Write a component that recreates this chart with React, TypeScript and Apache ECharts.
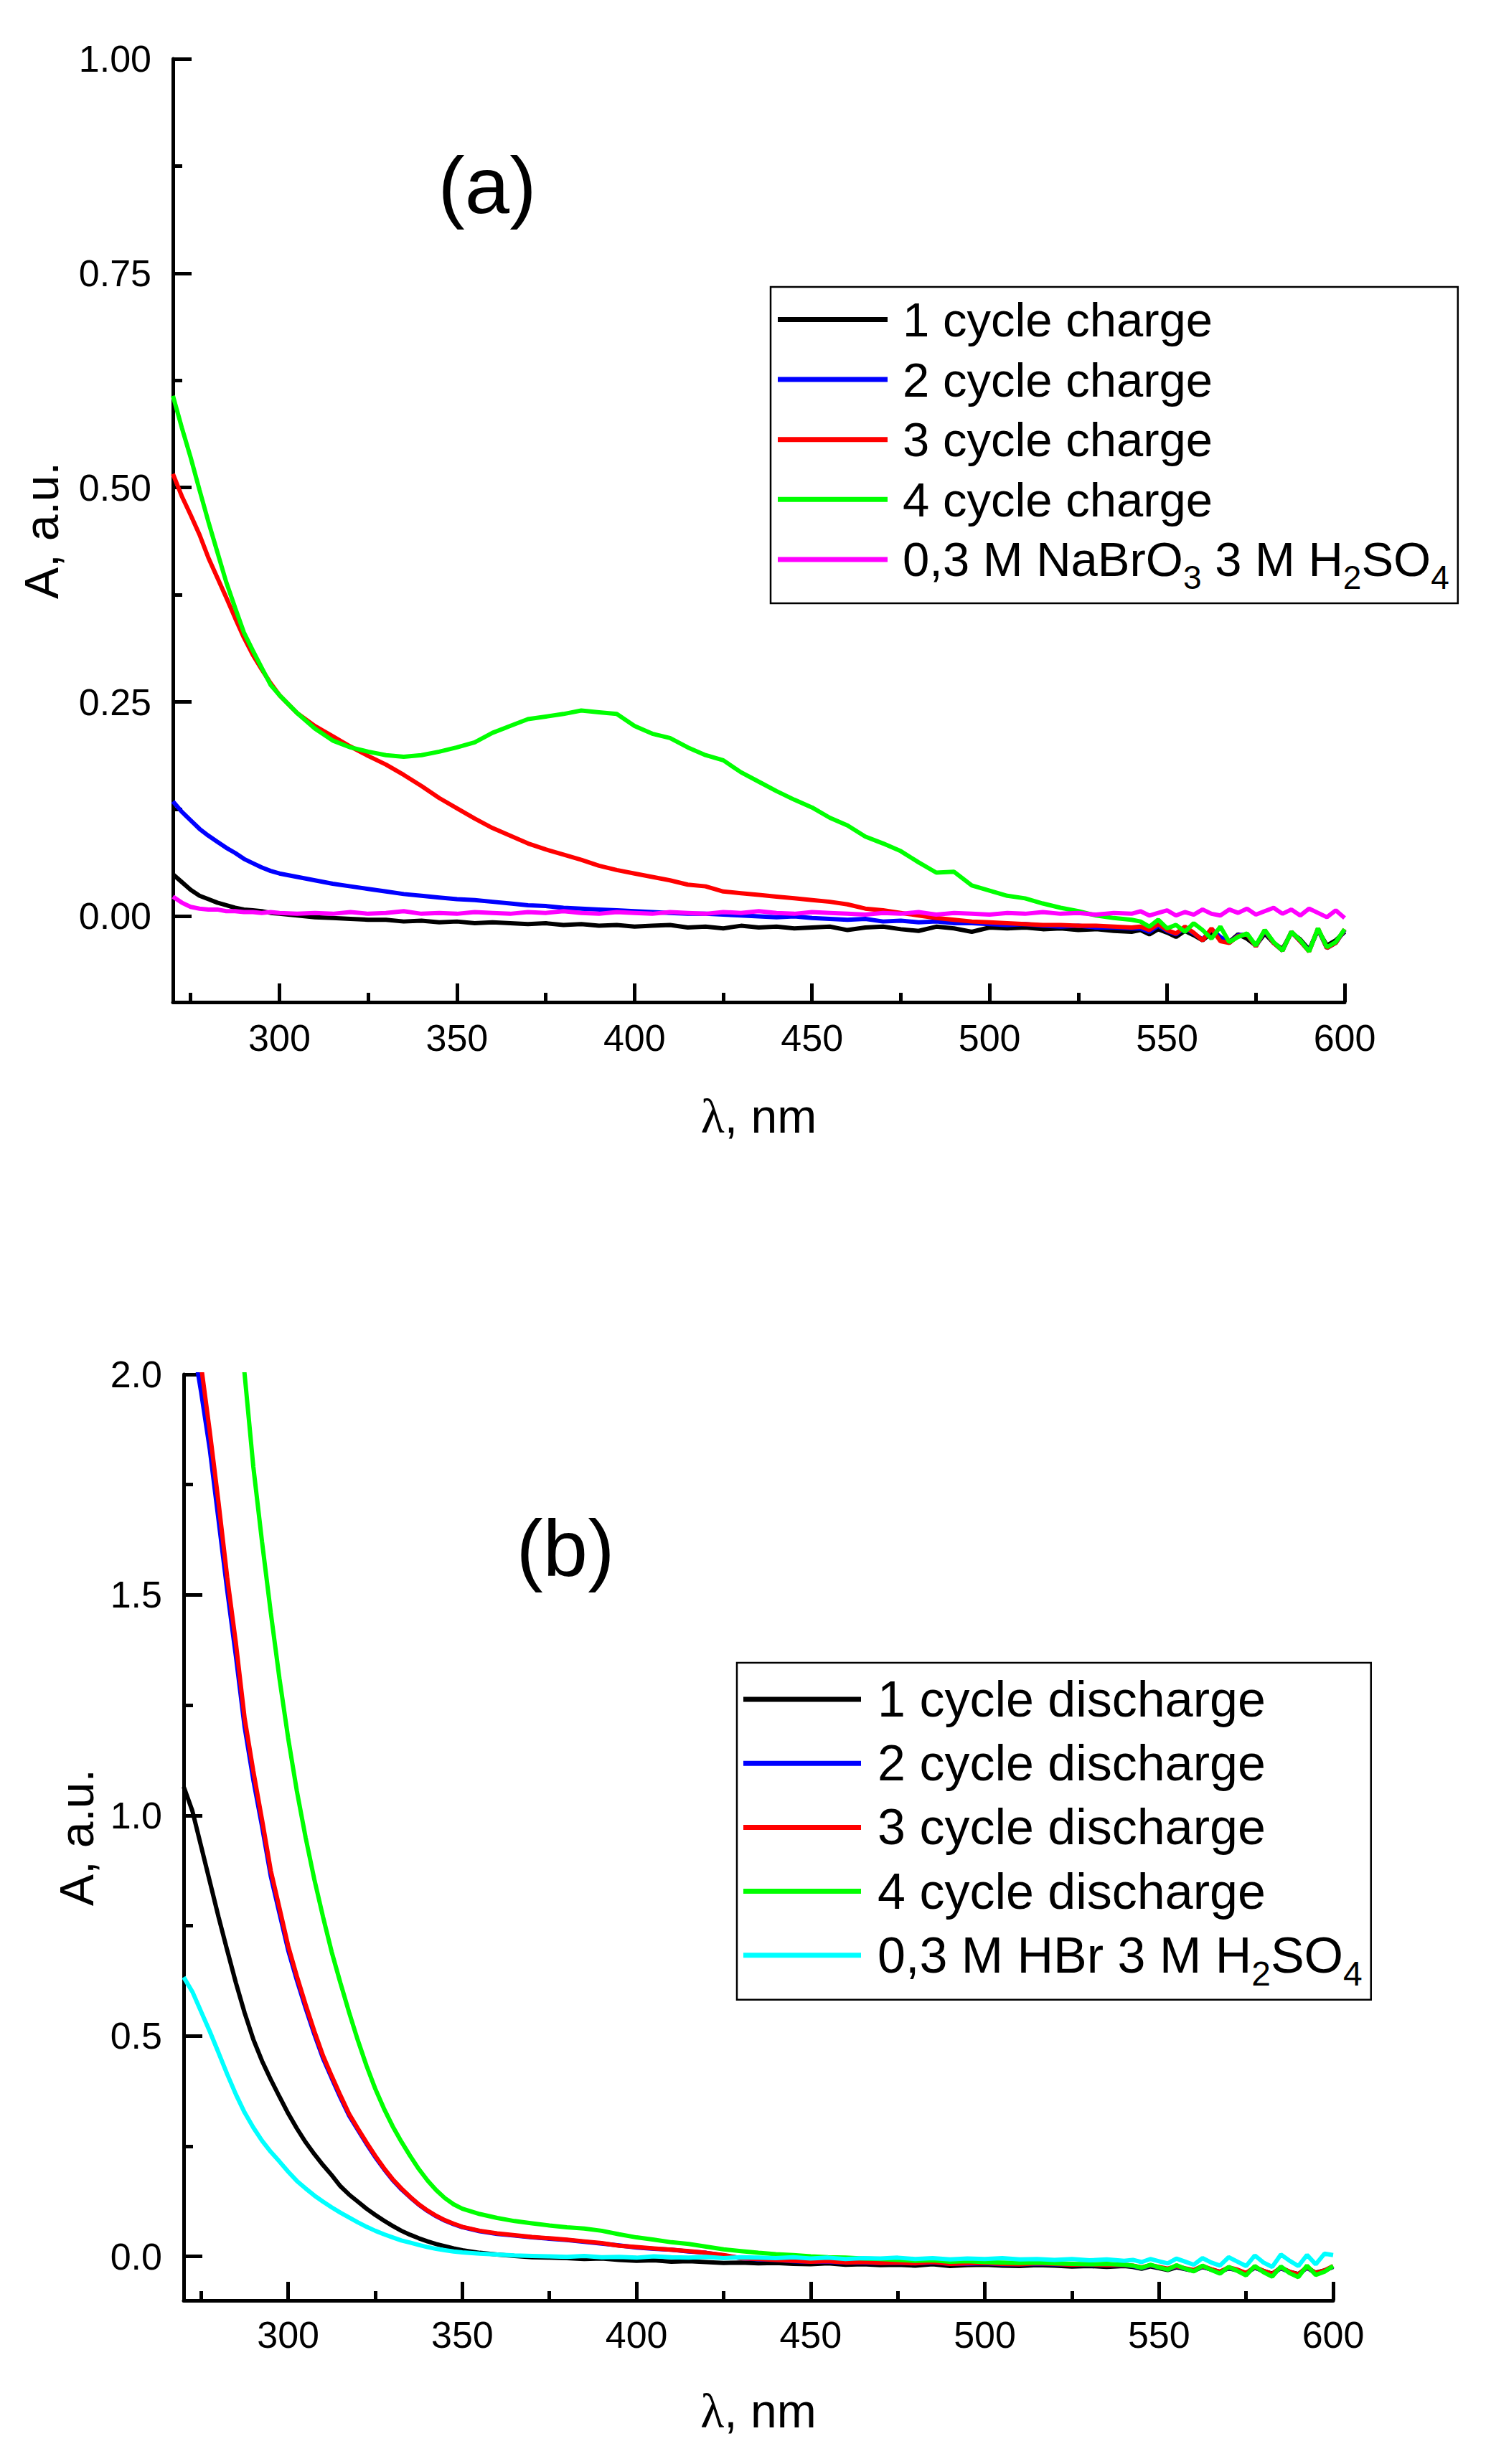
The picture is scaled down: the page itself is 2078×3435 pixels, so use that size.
import React, { useEffect, useRef } from "react";
import * as echarts from "echarts";

const FONT = '"Liberation Sans", Arial, Helvetica, sans-serif';
const SERIF = '"Liberation Serif", "DejaVu Serif", serif';

// ---------- wavelength grids (nm) ----------
const WL_A_HEAD = [270, 272.5, 275, 277.5, 280, 282.5, 285, 287.5, 290, 292.5, 295, 297.5, 300];
const WL_A_MID = [305, 310, 315, 320, 325, 330, 335, 340, 345, 350, 355, 360, 365, 370, 375, 380, 385, 390, 395, 400, 405, 410, 415, 420, 425, 430, 435, 440, 445, 450, 455, 460, 465, 470, 475, 480, 485, 490, 495, 500, 505, 510, 515, 520, 525, 530, 535, 540];
const WL_TAIL = [542.5, 545, 547.5, 550, 552.5, 555, 557.5, 560, 562.5, 565, 567.5, 570, 572.5, 575, 577.5, 580, 582.5, 585, 587.5, 590, 592.5, 595, 597.5, 600];
const WL_A = [...WL_A_HEAD, ...WL_A_MID, ...WL_TAIL];

const WL_B_HEAD = [270, 272.5, 275, 277.5, 280, 282.5, 285, 287.5, 290, 292.5, 295, 297.5, 300, 302.5, 305, 307.5, 310, 312.5, 315, 317.5, 320, 322.5, 325, 327.5, 330, 332.5, 335, 337.5, 340, 342.5, 345, 347.5, 350];
const WL_B_MID = [355, 360, 365, 370, 375, 380, 385, 390, 395, 400, 405, 410, 415, 420, 425, 430, 435, 440, 445, 450, 455, 460, 465, 470, 475, 480, 485, 490, 495, 500, 505, 510, 515, 520, 525, 530, 535, 540];
const WL_B = [...WL_B_HEAD, ...WL_B_MID, ...WL_TAIL];

// ---------- (a) charge ----------
const CHARGE_NAMES = ["1 cycle charge", "2 cycle charge", "3 cycle charge", "4 cycle charge", "0,3 M NaBrO3 3 M H2SO4"];

const CHARGE_1 = [
  0.049, 0.040, 0.031, 0.024, 0.020, 0.016, 0.013, 0.010, 0.008, 0.007, 0.006, 0.004, 0.003,
  0.001, -0.001, -0.002, -0.003, -0.004, -0.004, -0.006, -0.005, -0.007, -0.006,
  -0.008, -0.007, -0.008, -0.009, -0.008, -0.010, -0.009, -0.011, -0.010, -0.012,
  -0.011, -0.010, -0.013, -0.012, -0.014, -0.011, -0.013, -0.012, -0.014, -0.013,
  -0.012, -0.016, -0.013, -0.012, -0.015, -0.017, -0.012, -0.014, -0.018, -0.013,
  -0.014, -0.013, -0.015, -0.014, -0.016, -0.015, -0.017, -0.018,
  -0.016, -0.021, -0.015, -0.019, -0.024, -0.017, -0.022, -0.028, -0.019, -0.025, -0.030, -0.021,
  -0.026, -0.034, -0.020, -0.031, -0.038, -0.019, -0.027, -0.039, -0.016, -0.034, -0.028, -0.018,
];
const CHARGE_2 = [
  0.134, 0.122, 0.112, 0.102, 0.094, 0.087, 0.080, 0.074, 0.067, 0.062, 0.057, 0.053, 0.050,
  0.046, 0.042, 0.038, 0.035, 0.032, 0.029, 0.026, 0.024, 0.022, 0.020,
  0.019, 0.017, 0.015, 0.013, 0.012, 0.010, 0.009, 0.008, 0.007, 0.006,
  0.005, 0.004, 0.003, 0.003, 0.002, 0.001, 0.000, -0.001, 0.000, -0.002,
  -0.003, -0.004, -0.003, -0.006, -0.005, -0.007, -0.006, -0.008, -0.008, -0.009,
  -0.010, -0.009, -0.011, -0.012, -0.011, -0.013, -0.013, -0.014,
  -0.014, -0.018, -0.011, -0.017, -0.021, -0.013, -0.020, -0.027, -0.015, -0.024, -0.031, -0.022,
  -0.021, -0.035, -0.017, -0.031, -0.040, -0.018, -0.029, -0.040, -0.015, -0.037, -0.031, -0.016,
];
const CHARGE_3 = [
  0.516, 0.490, 0.468, 0.445, 0.418, 0.395, 0.372, 0.348, 0.325, 0.305, 0.288, 0.272, 0.258,
  0.237, 0.222, 0.210, 0.198, 0.187, 0.177, 0.165, 0.152, 0.138, 0.126,
  0.114, 0.103, 0.094, 0.085, 0.078, 0.072, 0.066, 0.059, 0.054, 0.050,
  0.046, 0.042, 0.037, 0.035, 0.029, 0.027, 0.025, 0.023, 0.021, 0.019,
  0.017, 0.014, 0.009, 0.007, 0.004, 0.001, -0.002, -0.004, -0.006, -0.007,
  -0.008, -0.009, -0.010, -0.010, -0.011, -0.011, -0.012, -0.013,
  -0.012, -0.016, -0.009, -0.016, -0.020, -0.012, -0.019, -0.028, -0.014, -0.029, -0.031, -0.023,
  -0.021, -0.035, -0.016, -0.031, -0.040, -0.018, -0.029, -0.041, -0.014, -0.037, -0.031, -0.015,
];
const CHARGE_4 = [
  0.607, 0.570, 0.535, 0.497, 0.460, 0.425, 0.390, 0.360, 0.331, 0.310, 0.290, 0.270, 0.258,
  0.237, 0.219, 0.205, 0.197, 0.192, 0.188, 0.186, 0.188, 0.192, 0.197,
  0.203, 0.214, 0.222, 0.230, 0.233, 0.236, 0.240, 0.238, 0.236, 0.222,
  0.213, 0.208, 0.197, 0.188, 0.182, 0.168, 0.157, 0.146, 0.136, 0.127,
  0.115, 0.106, 0.093, 0.085, 0.076, 0.063, 0.051, 0.052, 0.036, 0.030,
  0.024, 0.021, 0.015, 0.010, 0.006, 0.001, -0.002, -0.004,
  -0.006, -0.012, -0.004, -0.014, -0.010, -0.018, -0.008, -0.016, -0.026, -0.012, -0.030, -0.024,
  -0.020, -0.034, -0.016, -0.030, -0.040, -0.018, -0.028, -0.041, -0.014, -0.036, -0.030, -0.015,
];
const NABRO3_REF = [
  0.023, 0.016, 0.011, 0.009, 0.008, 0.008, 0.006, 0.006, 0.005, 0.005, 0.004, 0.005, 0.004,
  0.003, 0.004, 0.003, 0.005, 0.003, 0.004, 0.006, 0.003, 0.004, 0.003,
  0.005, 0.004, 0.003, 0.005, 0.004, 0.006, 0.004, 0.003, 0.005, 0.004,
  0.003, 0.005, 0.004, 0.003, 0.005, 0.004, 0.006, 0.004, 0.003, 0.005,
  0.004, 0.003, 0.002, 0.004, 0.003, 0.005, 0.002, 0.004, 0.003, 0.002,
  0.004, 0.003, 0.005, 0.003, 0.004, 0.002, 0.004, 0.003,
  0.006, 0.001, 0.004, 0.007, 0.001, 0.005, 0.002, 0.008, 0.003, 0.001, 0.008, 0.004,
  0.009, 0.002, 0.006, 0.010, 0.003, 0.008, 0.001, 0.009, 0.004, -0.001, 0.007, -0.002,
];

// ---------- (b) discharge ----------
const DISCHARGE_NAMES = ["1 cycle discharge", "2 cycle discharge", "3 cycle discharge", "4 cycle discharge", "0,3 M HBr 3 M H2SO4"];

const DISCHARGE_1 = [
  1.065, 1.01, 0.93, 0.85, 0.77, 0.694, 0.62, 0.552, 0.492, 0.443, 0.401, 0.362, 0.324, 0.29, 0.259, 0.232,
  0.207, 0.184, 0.159, 0.14, 0.124, 0.108, 0.094, 0.081, 0.069, 0.058, 0.049, 0.041, 0.034, 0.028, 0.023, 0.018, 0.014,
  0.008, 0.004, 0.001, -0.002, -0.003, -0.004, -0.006, -0.005, -0.008, -0.010,
  -0.009, -0.012, -0.011, -0.013, -0.015, -0.014, -0.016, -0.015, -0.017, -0.018,
  -0.016, -0.019, -0.018, -0.020, -0.019, -0.021, -0.018, -0.022, -0.020, -0.019,
  -0.021, -0.022, -0.020, -0.021, -0.023, -0.022, -0.024, -0.022,
  -0.024, -0.028, -0.023, -0.027, -0.031, -0.025, -0.029, -0.033, -0.024, -0.030, -0.035, -0.027,
  -0.032, -0.038, -0.026, -0.033, -0.039, -0.027, -0.035, -0.040, -0.026, -0.037, -0.032, -0.024,
];
const DISCHARGE_2 = [
  2.2, 2.08, 1.96, 1.83, 1.67, 1.51, 1.36, 1.2, 1.08, 0.975, 0.862, 0.778, 0.694, 0.626, 0.563, 0.504,
  0.449, 0.404, 0.36, 0.319, 0.287, 0.255, 0.225, 0.198, 0.173, 0.152, 0.134, 0.117, 0.103, 0.091, 0.081, 0.073, 0.066,
  0.057, 0.051, 0.047, 0.043, 0.040, 0.037, 0.033, 0.029, 0.025, 0.020,
  0.017, 0.015, 0.011, 0.008, 0.002, -0.004, -0.007, -0.008, -0.011, -0.012,
  -0.012, -0.014, -0.014, -0.015, -0.015, -0.016, -0.014, -0.017, -0.017, -0.016,
  -0.018, -0.018, -0.017, -0.018, -0.019, -0.019, -0.020, -0.020,
  -0.022, -0.026, -0.021, -0.025, -0.029, -0.023, -0.028, -0.032, -0.023, -0.030, -0.036, -0.026,
  -0.031, -0.039, -0.025, -0.034, -0.041, -0.026, -0.036, -0.042, -0.025, -0.039, -0.033, -0.023,
];
const DISCHARGE_3 = [
  null, 2.2, 2.02, 1.87, 1.71, 1.54, 1.39, 1.22, 1.10, 0.99, 0.875, 0.79, 0.704, 0.635, 0.571, 0.511,
  0.455, 0.409, 0.365, 0.323, 0.29, 0.258, 0.228, 0.2, 0.175, 0.154, 0.135, 0.118, 0.104, 0.092, 0.082, 0.074, 0.067,
  0.058, 0.052, 0.048, 0.044, 0.041, 0.038, 0.034, 0.030, 0.024, 0.021,
  0.018, 0.015, 0.012, 0.008, 0.003, -0.004, -0.006, -0.008, -0.010, -0.012,
  -0.011, -0.014, -0.013, -0.015, -0.014, -0.016, -0.013, -0.017, -0.016, -0.015,
  -0.017, -0.018, -0.016, -0.017, -0.019, -0.018, -0.020, -0.019,
  -0.021, -0.025, -0.020, -0.024, -0.028, -0.022, -0.027, -0.031, -0.022, -0.029, -0.035, -0.025,
  -0.030, -0.038, -0.024, -0.033, -0.040, -0.025, -0.035, -0.041, -0.024, -0.038, -0.032, -0.022,
];
const DISCHARGE_4 = [
  null, null, null, null, null, null, 2.18, 2.00, 1.79, 1.62, 1.46, 1.31, 1.175, 1.055, 0.95, 0.855,
  0.77, 0.69, 0.62, 0.553, 0.49, 0.432, 0.38, 0.335, 0.295, 0.26, 0.228, 0.198, 0.172, 0.15, 0.132, 0.118, 0.108,
  0.096, 0.087, 0.080, 0.075, 0.070, 0.066, 0.063, 0.058, 0.050, 0.043,
  0.038, 0.032, 0.028, 0.022, 0.016, 0.012, 0.008, 0.005, 0.003, 0.000,
  -0.002, -0.003, -0.005, -0.006, -0.008, -0.010, -0.009, -0.012, -0.011, -0.013,
  -0.014, -0.015, -0.014, -0.016, -0.017, -0.018, -0.017, -0.019,
  -0.021, -0.026, -0.019, -0.025, -0.030, -0.020, -0.028, -0.034, -0.021, -0.031, -0.039, -0.024,
  -0.033, -0.043, -0.022, -0.036, -0.046, -0.023, -0.038, -0.047, -0.021, -0.042, -0.035, -0.022,
];
const HBR_REF = [
  0.633, 0.60, 0.555, 0.51, 0.462, 0.413, 0.367, 0.326, 0.292, 0.262, 0.237, 0.215, 0.192, 0.171, 0.154, 0.138,
  0.124, 0.111, 0.099, 0.088, 0.077, 0.067, 0.058, 0.050, 0.043, 0.036, 0.031, 0.026, 0.021, 0.017, 0.014, 0.011, 0.009,
  0.006, 0.004, 0.002, 0.001, 0.000, -0.001, 0.001, -0.002, -0.001, -0.003,
  0.000, -0.002, -0.003, -0.001, -0.004, -0.002, -0.003, -0.004, -0.002, -0.005,
  -0.003, -0.006, -0.004, -0.005, -0.003, -0.006, -0.004, -0.007, -0.005, -0.006,
  -0.004, -0.007, -0.006, -0.008, -0.006, -0.009, -0.007, -0.010,
  -0.008, -0.013, -0.006, -0.011, -0.016, -0.005, -0.012, -0.019, -0.004, -0.014, -0.021, -0.002,
  -0.012, -0.022, 0.002, -0.014, -0.024, 0.004, -0.010, -0.022, 0.003, -0.018, 0.006, 0.003,
];

// ---------- ticks ----------
const X_MAJOR = [300, 350, 400, 450, 500, 550, 600];
const X_MINOR = [275, 325, 375, 425, 475, 525, 575];
const YA_MAJOR = [0, 0.25, 0.5, 0.75, 1.0];
const YA_MINOR = [0.125, 0.375, 0.625, 0.875];
const YB_MAJOR = [0, 0.5, 1.0, 1.5, 2.0];
const YB_MINOR = [0.25, 0.75, 1.25, 1.75];

const COLORS_A = ["#000000", "#0000FF", "#FF0000", "#00FF00", "#FF00FF"];
const COLORS_B = ["#000000", "#0000FF", "#FF0000", "#00FF00", "#00FFFF"];

const pairs = (wl: number[], vals: (number | null)[]) => wl.map((w, i) => [w, vals[i]]);

const AXIS_W = 5;

function xAxes(grid: number, nameGap: number, labelMargin: number) {
  return [
    {
      gridIndex: grid, type: "value", min: 270, max: 600, position: "bottom",
      axisLine: { show: true, onZero: false, lineStyle: { color: "#000", width: AXIS_W } },
      axisTick: { show: true, inside: true, length: 26, customValues: X_MAJOR, lineStyle: { color: "#000", width: AXIS_W } },
      axisLabel: { show: true, customValues: X_MAJOR, fontSize: 52, fontFamily: FONT, color: "#000", margin: labelMargin, formatter: (v: number) => String(v) },
      splitLine: { show: false },
      name: "{l|λ}, nm", nameLocation: "middle", nameGap,
      nameTextStyle: { fontSize: 66, fontFamily: FONT, color: "#000", rich: { l: { fontSize: 68, fontFamily: SERIF, color: "#000" } } },
    },
    {
      gridIndex: grid, type: "value", min: 270, max: 600, position: "bottom",
      axisLine: { show: false, onZero: false },
      axisTick: { show: true, inside: true, length: 13, customValues: X_MINOR, lineStyle: { color: "#000", width: AXIS_W } },
      axisLabel: { show: false },
      splitLine: { show: false },
    },
  ];
}

function yAxes(grid: number, max: number, major: number[], minor: number[], digits: number, nameGap: number) {
  return [
    {
      gridIndex: grid, type: "value", min: -0.1, max, position: "left",
      axisLine: { show: true, onZero: false, lineStyle: { color: "#000", width: AXIS_W } },
      axisTick: { show: true, inside: true, length: 26, customValues: major, lineStyle: { color: "#000", width: AXIS_W } },
      axisLabel: { show: true, customValues: major, fontSize: 52, fontFamily: FONT, color: "#000", margin: 30, formatter: (v: number) => v.toFixed(digits) },
      splitLine: { show: false },
      name: "A, a.u.", nameLocation: "middle", nameGap, nameRotate: 90,
      nameTextStyle: { fontSize: 66, fontFamily: FONT, color: "#000" },
    },
    {
      gridIndex: grid, type: "value", min: -0.1, max, position: "left",
      axisLine: { show: false, onZero: false },
      axisTick: { show: true, inside: true, length: 13, customValues: minor, lineStyle: { color: "#000", width: AXIS_W } },
      axisLabel: { show: false },
      splitLine: { show: false },
    },
  ];
}

const legendFormatter = (name: string) => name.replace(/([A-Za-z])(\d)/g, "$1{s|$2}");

function legend(names: string[], left: number, top: number, iw: number, fs: number, gap: number, padding: number[], textGap: number) {
  const sub = Math.round(fs * 0.68);
  const shift = Math.round(fs * 0.37);
  return {
    orient: "vertical", left, top, data: names, icon: "rect", itemWidth: iw, itemHeight: 7, itemGap: gap,
    padding, borderColor: "#000", borderWidth: 2.5, backgroundColor: "#fff", selectedMode: false,
    formatter: legendFormatter,
    textStyle: {
      fontSize: fs, fontFamily: FONT, color: "#000", padding: [0, 0, 0, textGap],
      rich: { s: { fontSize: sub, fontFamily: FONT, color: "#000", padding: [shift, 0, -shift, 0], lineHeight: sub } },
    },
  };
}

export default function App() {
  const ref = useRef<HTMLDivElement>(null);
  useEffect(() => {
    if (!ref.current) return;
    const chart = echarts.init(ref.current, null, { renderer: "svg", width: 2078, height: 3435 });
    const seriesA = [CHARGE_1, CHARGE_2, CHARGE_3, CHARGE_4, NABRO3_REF].map((vals, i) => ({
      name: CHARGE_NAMES[i], type: "line", xAxisIndex: 0, yAxisIndex: 0, showSymbol: false, symbol: "none",
      data: pairs(WL_A, vals), clip: true,
      itemStyle: { color: COLORS_A[i] }, lineStyle: { color: COLORS_A[i], width: 6 },
    }));
    const seriesB = [DISCHARGE_1, DISCHARGE_2, DISCHARGE_3, DISCHARGE_4, HBR_REF].map((vals, i) => ({
      name: DISCHARGE_NAMES[i], type: "line", xAxisIndex: 2, yAxisIndex: 2, showSymbol: false, symbol: "none",
      data: pairs(WL_B, vals), clip: true,
      itemStyle: { color: COLORS_B[i] }, lineStyle: { color: COLORS_B[i], width: 6 },
    }));
    chart.setOption({
      animation: false,
      backgroundColor: "#fff",
      grid: [
        { left: 241, top: 82, width: 1633, height: 1315, containLabel: false, outerBoundsMode: "none" },
        { left: 256, top: 1916, width: 1602, height: 1291, containLabel: false, outerBoundsMode: "none" },
      ],
      xAxis: [...xAxes(0, 125, 24), ...xAxes(1, 120, 22)],
      yAxis: [...yAxes(0, 1.0, YA_MAJOR, YA_MINOR, 2, 150), ...yAxes(1, 2.0, YB_MAJOR, YB_MINOR, 1, 116)],
      legend: [
        legend(CHARGE_NAMES, 1074, 400, 153, 67, 16.6, [12, 12, 13, 10], 16),
        legend(DISCHARGE_NAMES, 1027, 2318, 164, 70, 19.2, [16, 12, 12, 9], 18),
      ],
      graphic: [
        { type: "text", x: 679, y: 258, style: { text: "(a)", fontSize: 112, fontFamily: FONT, fill: "#000", align: "center", verticalAlign: "middle" } },
        { type: "text", x: 788, y: 2158, style: { text: "(b)", fontSize: 112, fontFamily: FONT, fill: "#000", align: "center", verticalAlign: "middle" } },
      ],
      series: [...seriesA, ...seriesB],
    });
    return () => chart.dispose();
  }, []);
  return <div ref={ref} style={{ position: "absolute", left: 0, top: 0, width: 2078, height: 3435, background: "#fff" }} />;
}
